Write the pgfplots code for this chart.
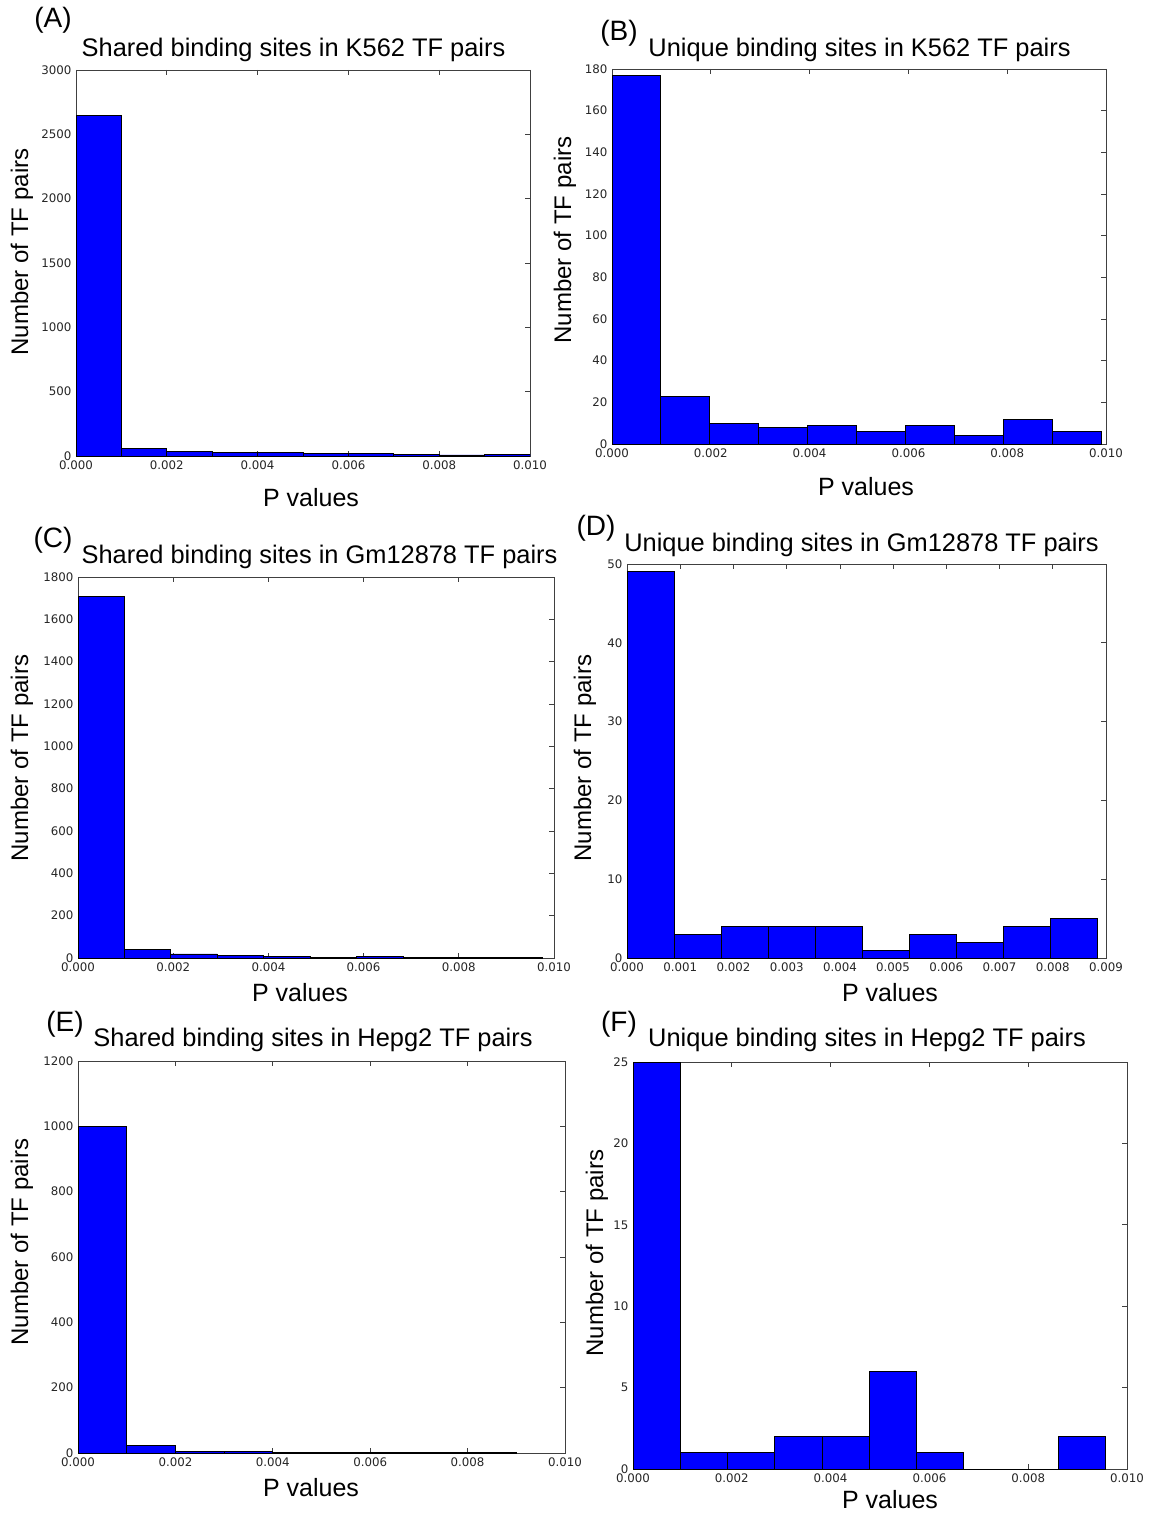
\documentclass[border=0pt]{standalone}
\usepackage{fontspec}
\setmainfont{DejaVu Sans}
\newfontfamily\arial{Liberation Sans}
\usepackage{pgfplots}
\pgfplotsset{compat=1.18}

\pgfplotsset{
  hist/.style={
    scale only axis, anchor=south west,
    enlargelimits=false, ymin=0, xmin=0,
    axis line style={black!75, line width=0.9pt},
    tick align=inside, major tick length=5pt,
    tick style={black!75, line width=0.7pt},
    ticklabel style={font=\fontsize{11.8}{12}\selectfont, text=black!85},
    xticklabel style={yshift=-1pt},
    yticklabel style={xshift=-1pt},
    /pgf/number format/assume math mode=true,
    scaled x ticks=false, scaled y ticks=false,
    xticklabel style={/pgf/number format/.cd, fixed, fixed zerofill, precision=3},
    yticklabel style={/pgf/number format/.cd, fixed, precision=0, 1000 sep={}},
  },
  bars/.style={ybar interval, fill=blue, draw=black, line width=0.9pt},
}
\newcommand{\ttl}[3]{\node[font=\arial\fontsize{25.4}{25}\selectfont, inner sep=0pt] at (#1pt,-#2pt) {#3};}
\newcommand{\plab}[3]{\node[font=\arial\fontsize{28}{28}\selectfont, inner sep=0pt] at (#1pt,-#2pt) {#3};}
\newcommand{\xlab}[2]{\node[font=\arial\fontsize{25}{25}\selectfont, inner sep=0pt] at (#1pt,-#2pt) {P values};}
\newcommand{\ylab}[2]{\node[font=\arial\fontsize{24}{24}\selectfont, inner sep=0pt, rotate=90] at (#1pt,-#2pt) {Number of TF pairs};}

\begin{document}
\begin{tikzpicture}
\path[use as bounding box, fill=white] (0,0) rectangle (1151pt,-1514pt);

% (A)
\begin{axis}[hist, at={(76pt,-456pt)}, width=454pt, height=386pt,
  xmax=0.010, ymax=3000, xtick={0,0.002,...,0.0101}, ytick={0,500,...,3000}]
\addplot[bars] coordinates {(0,2650)(0.001,62)(0.002,36)(0.003,29)(0.004,29)(0.005,21)(0.006,21)(0.007,13)(0.008,8)(0.009,13)(0.010,13)};
\end{axis}
\plab{53}{20}{(A)}
\ttl{293.5}{50}{Shared binding sites in K562 TF pairs}
\xlab{311}{498}
\ylab{22}{252}

% (B)
\begin{axis}[hist, at={(612pt,-444pt)}, width=494pt, height=375pt,
  xmax=0.010, ymax=180, xtick={0,0.002,...,0.0101}, ytick={0,20,...,180}]
\addplot[bars] coordinates {(0,177)(0.00099,23)(0.00198,10)(0.00297,8)(0.00396,9)(0.00495,6)(0.00594,9)(0.00693,4)(0.00792,12)(0.00891,6)(0.0099,6)};
\end{axis}
\plab{619}{33}{(B)}
\ttl{859.5}{50}{Unique binding sites in K562 TF pairs}
\xlab{866}{487}
\ylab{565}{240}

% (C)
\begin{axis}[hist, at={(78pt,-958pt)}, width=476pt, height=381pt,
  xmax=0.010, ymax=1800, xtick={0,0.002,...,0.0101}, ytick={0,200,...,1800}]
\addplot[bars] coordinates {(0,1710)(0.000976,40)(0.001952,19)(0.002928,11)(0.003904,6)(0.00488,2)(0.005856,6)(0.006832,1)(0.007808,4)(0.008784,1)(0.00976,1)};
\end{axis}
\plab{53}{540}{(C)}
\ttl{319.5}{557}{Shared binding sites in Gm12878 TF pairs}
\xlab{300}{993}
\ylab{22}{758}

% (D)
\begin{axis}[hist, at={(627pt,-958pt)}, width=479pt, height=394pt,
  xmax=0.009, ymax=50, xtick={0,0.001,...,0.00901}, ytick={0,10,...,50}]
\addplot[bars] coordinates {(0,49)(0.000884,3)(0.001768,4)(0.002652,4)(0.003536,4)(0.00442,1)(0.005304,3)(0.006188,2)(0.007072,4)(0.007956,5)(0.00884,5)};
\end{axis}
\plab{596}{528}{(D)}
\ttl{861.5}{545}{Unique binding sites in Gm12878 TF pairs}
\xlab{890}{993}
\ylab{585}{758}

% (E)
\begin{axis}[hist, at={(78pt,-1453pt)}, width=487pt, height=392pt,
  xmax=0.010, ymax=1200, xtick={0,0.002,...,0.0101}, ytick={0,200,...,1200}]
\addplot[bars] coordinates {(0,1000)(0.001,22)(0.002,6)(0.003,6)(0.004,3)(0.005,1)(0.006,1)(0.007,1)(0.008,2)(0.009,2)};
\end{axis}
\plab{65}{1024}{(E)}
\ttl{313}{1040}{Shared binding sites in Hepg2 TF pairs}
\xlab{311}{1488}
\ylab{22}{1242}

% (F)
\begin{axis}[hist, at={(633pt,-1469pt)}, width=494pt, height=407pt,
  xmax=0.010, ymax=25, xtick={0,0.002,...,0.0101}, ytick={0,5,...,25}]
\addplot[bars] coordinates {(0,25)(0.000957,1)(0.001914,1)(0.002871,2)(0.003828,2)(0.004785,6)(0.005742,1)(0.006699,0)(0.007656,0)(0.008613,2)(0.00957,2)};
\end{axis}
\plab{619}{1024}{(F)}
\ttl{867}{1040}{Unique binding sites in Hepg2 TF pairs}
\xlab{890}{1500}
\ylab{597}{1253}
\end{tikzpicture}
\end{document}
